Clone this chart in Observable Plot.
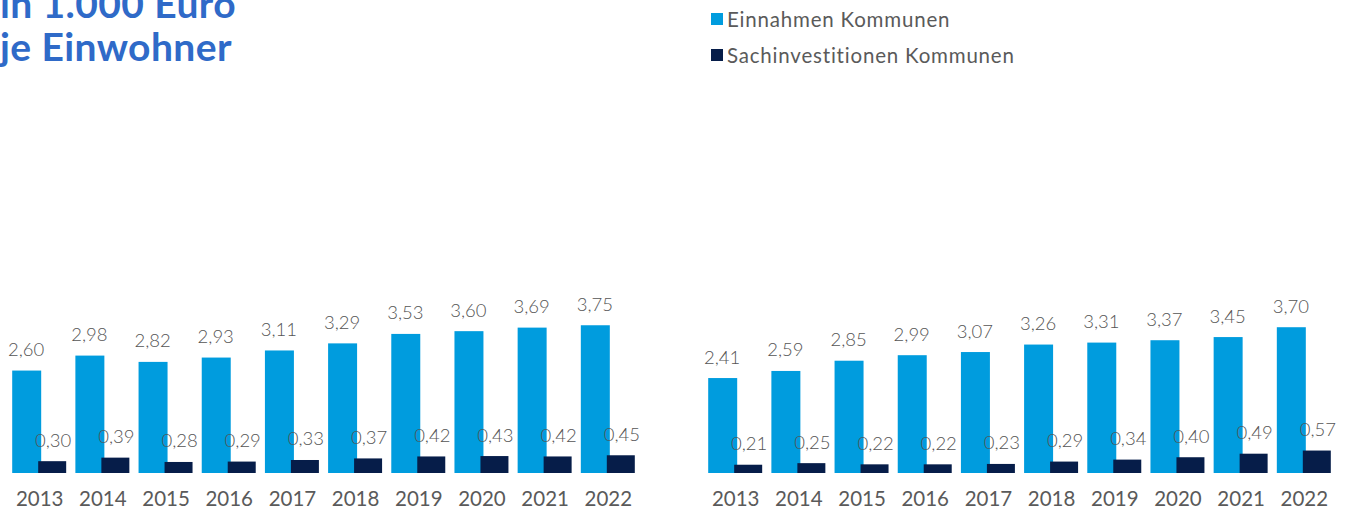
<!DOCTYPE html>
<html>
<head>
<meta charset="utf-8">
<script src="https://cdn.jsdelivr.net/npm/d3@7"></script>
<script src="https://cdn.jsdelivr.net/npm/@observablehq/plot@0.6"></script>
<style>
  html, body { margin: 0; padding: 0; background: #ffffff; }
  #root { position: relative; width: 1350px; height: 511px; overflow: hidden; font-family: Lato, "Open Sans", sans-serif; }
  #header { position: relative; width: 1350px; height: 80px; }
  #title { position: absolute; left: 0px; top: -18px; color: #2f6ac8; font-weight: 700; font-size: 39px; line-height: 43px; letter-spacing: 0.4px; white-space: nowrap; }
  .leg { position: absolute; left: 711px; display: flex; align-items: center; font-size: 20.5px; letter-spacing: 0.8px; color: #5a5a5a; white-space: nowrap; font-weight: 400; }
  .leg .sw { width: 12px; height: 12px; margin-right: 4px; }
  #panels { position: relative; width: 1350px; height: 431px; }
  #panels > div { position: absolute; top: 0; }
</style>
</head>
<body>
<div id="root">
  <div id="header"><div id="title"></div></div>
  <div id="panels"><div id="p1" style="left:0px"></div><div id="p2" style="left:696px"></div></div>
</div>
<script>
// ---- data ----
const years = ["2013", "2014", "2015", "2016", "2017", "2018", "2019", "2020", "2021", "2022"];
const seriesNames = ["Einnahmen Kommunen", "Sachinvestitionen Kommunen"];
const seriesColors = ["#009cde", "#061d49"];
const titleLines = ["in 1.000 Euro", "je Einwohner"];

const einnahmenLinks = [2.60, 2.98, 2.82, 2.93, 3.11, 3.29, 3.53, 3.60, 3.69, 3.75];
const sachinvestitionenLinks = [0.30, 0.39, 0.28, 0.29, 0.33, 0.37, 0.42, 0.43, 0.42, 0.45];
const einnahmenRechts = [2.41, 2.59, 2.85, 2.99, 3.07, 3.26, 3.31, 3.37, 3.45, 3.70];
const sachinvestitionenRechts = [0.21, 0.25, 0.22, 0.22, 0.23, 0.29, 0.34, 0.40, 0.49, 0.57];

// ---- header ----
document.getElementById("title").innerHTML = titleLines.join("<br>");
const header = document.getElementById("header");
seriesNames.forEach((name, i) => {
  const el = document.createElement("div");
  el.className = "leg";
  el.style.top = (i === 0 ? 7 : 43) + "px";
  el.innerHTML = `<span class="sw" style="background:${seriesColors[i]}"></span><span>${name}</span>`;
  header.appendChild(el);
});

const fmt = v => v.toFixed(2).replace(".", ",");

function panel(einnahmen, sach) {
  const rows = [];
  years.forEach((y, i) => {
    rows.push({year: y, series: seriesNames[0], value: einnahmen[i]});
    rows.push({year: y, series: seriesNames[1], value: sach[i]});
  });
  const blue = rows.filter(d => d.series === seriesNames[0]);
  const dark = rows.filter(d => d.series === seriesNames[1]);
  return Plot.plot({
    width: 654,
    height: 431,
    marginLeft: 3,
    marginRight: 10,
    marginTop: 235.4,
    marginBottom: 38,
    style: {fontFamily: "Lato, 'Open Sans', sans-serif", background: "transparent", overflow: "visible"},
    fx: {domain: years, paddingInner: 0.1456, paddingOuter: 0.1456, round: false, label: null},
    x: {domain: seriesNames, padding: 0, round: false, axis: null},
    y: {domain: [0, 4], axis: null},
    color: {domain: seriesNames, range: seriesColors},
    marks: [
      Plot.barY(blue, {fx: "year", x: "series", y: "value", fill: "series", insetRight: -2}),
      Plot.barY(dark, {fx: "year", x: "series", y: "value", fill: "series", insetLeft: -1}),
      Plot.text(rows, {fx: "year", x: "series", y: "value", text: d => fmt(d.value),
        lineAnchor: "bottom", dy: -15, fontSize: 18.5, fill: "#555555", fontWeight: 300}),
      Plot.axisFx({anchor: "bottom", tickSize: 0, tickPadding: 18, fontSize: 20.5, color: "#5a5a5a", label: null})
    ]
  });
}

document.getElementById("p1").appendChild(panel(einnahmenLinks, sachinvestitionenLinks));
document.getElementById("p2").appendChild(panel(einnahmenRechts, sachinvestitionenRechts));
</script>
</body>
</html>
